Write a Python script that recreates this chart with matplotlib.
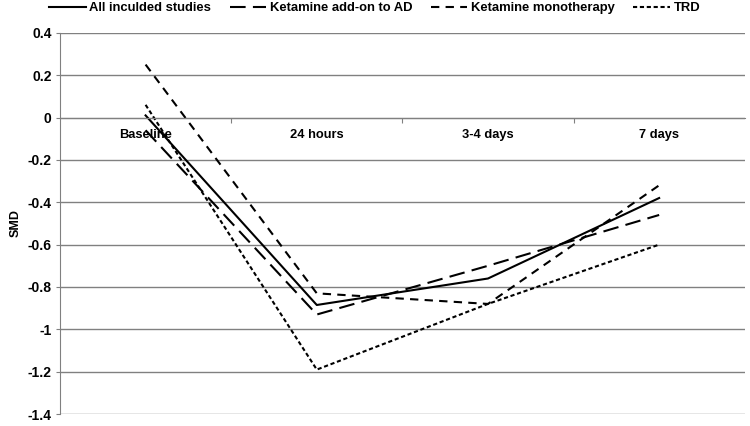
import matplotlib.pyplot as plt

plt.rcParams['font.family'] = ['Liberation Sans', 'DejaVu Sans']
plt.rcParams['font.weight'] = 'bold'

timepoints = ['Baseline', '24 hours', '3-4 days', '7 days']
all_studies = [0.01, -0.885, -0.76, -0.38]
addon_ad = [-0.06, -0.93, -0.70, -0.46]
monotherapy = [0.25, -0.83, -0.88, -0.32]
trd = [0.06, -1.19, -0.88, -0.60]

fig = plt.figure(figsize=(7.5, 4.26), dpi=100)
ax = fig.add_axes([0.08, 0.028, 0.913, 0.895])

x = range(len(timepoints))
lw = 1.5
ax.plot(x, all_studies, color='black', lw=lw, label='All inculded studies')
ax.plot(x, addon_ad, color='black', lw=lw, dashes=(7.5, 3.5), label='Ketamine add-on to AD')
ax.plot(x, monotherapy, color='black', lw=lw, dashes=(4, 3), label='Ketamine monotherapy')
ax.plot(x, trd, color='black', lw=lw, dashes=(2, 1.3), label='TRD')

ax.set_xlim(-0.5, len(timepoints) - 0.5)
ax.set_ylim(-1.4, 0.4)
ax.set_yticks([round(-1.4 + 0.2 * i, 1) for i in range(10)])
ax.set_yticklabels(['-1.4', '-1.2', '-1', '-0.8', '-0.6', '-0.4', '-0.2', '0', '0.2', '0.4'],
                   fontsize=10, fontweight='bold')
ax.tick_params(axis='y', length=3, color='#808080', pad=3)
ax.grid(axis='y', color='#808080', lw=1)
ax.set_axisbelow(True)

# category axis sits on y = 0
ax.spines['bottom'].set_position(('data', 0))
ax.spines['bottom'].set_color('#808080')
ax.spines['left'].set_color('#808080')
ax.spines['right'].set_visible(False)
ax.spines['top'].set_visible(False)
ax.set_xticks([0.5, 1.5, 2.5])
ax.set_xticklabels([])
ax.tick_params(axis='x', length=3.5, color='#808080', direction='out')
ax.set_xticks(list(x), minor=True)
ax.set_xticklabels(timepoints, minor=True, fontsize=9.3, fontweight='bold')
ax.tick_params(axis='x', which='minor', length=0, pad=8)

ax.set_ylabel('SMD', fontsize=9, fontweight='bold', labelpad=4)

fig.legend(loc='upper left', bbox_to_anchor=(0.0627, 1.0), ncol=4, frameon=False,
           prop={'size': 9.4, 'weight': 'bold'}, handlelength=2.8, columnspacing=1.4,
           handletextpad=0.3, borderpad=0.15, borderaxespad=0)

fig.savefig('out.png')
